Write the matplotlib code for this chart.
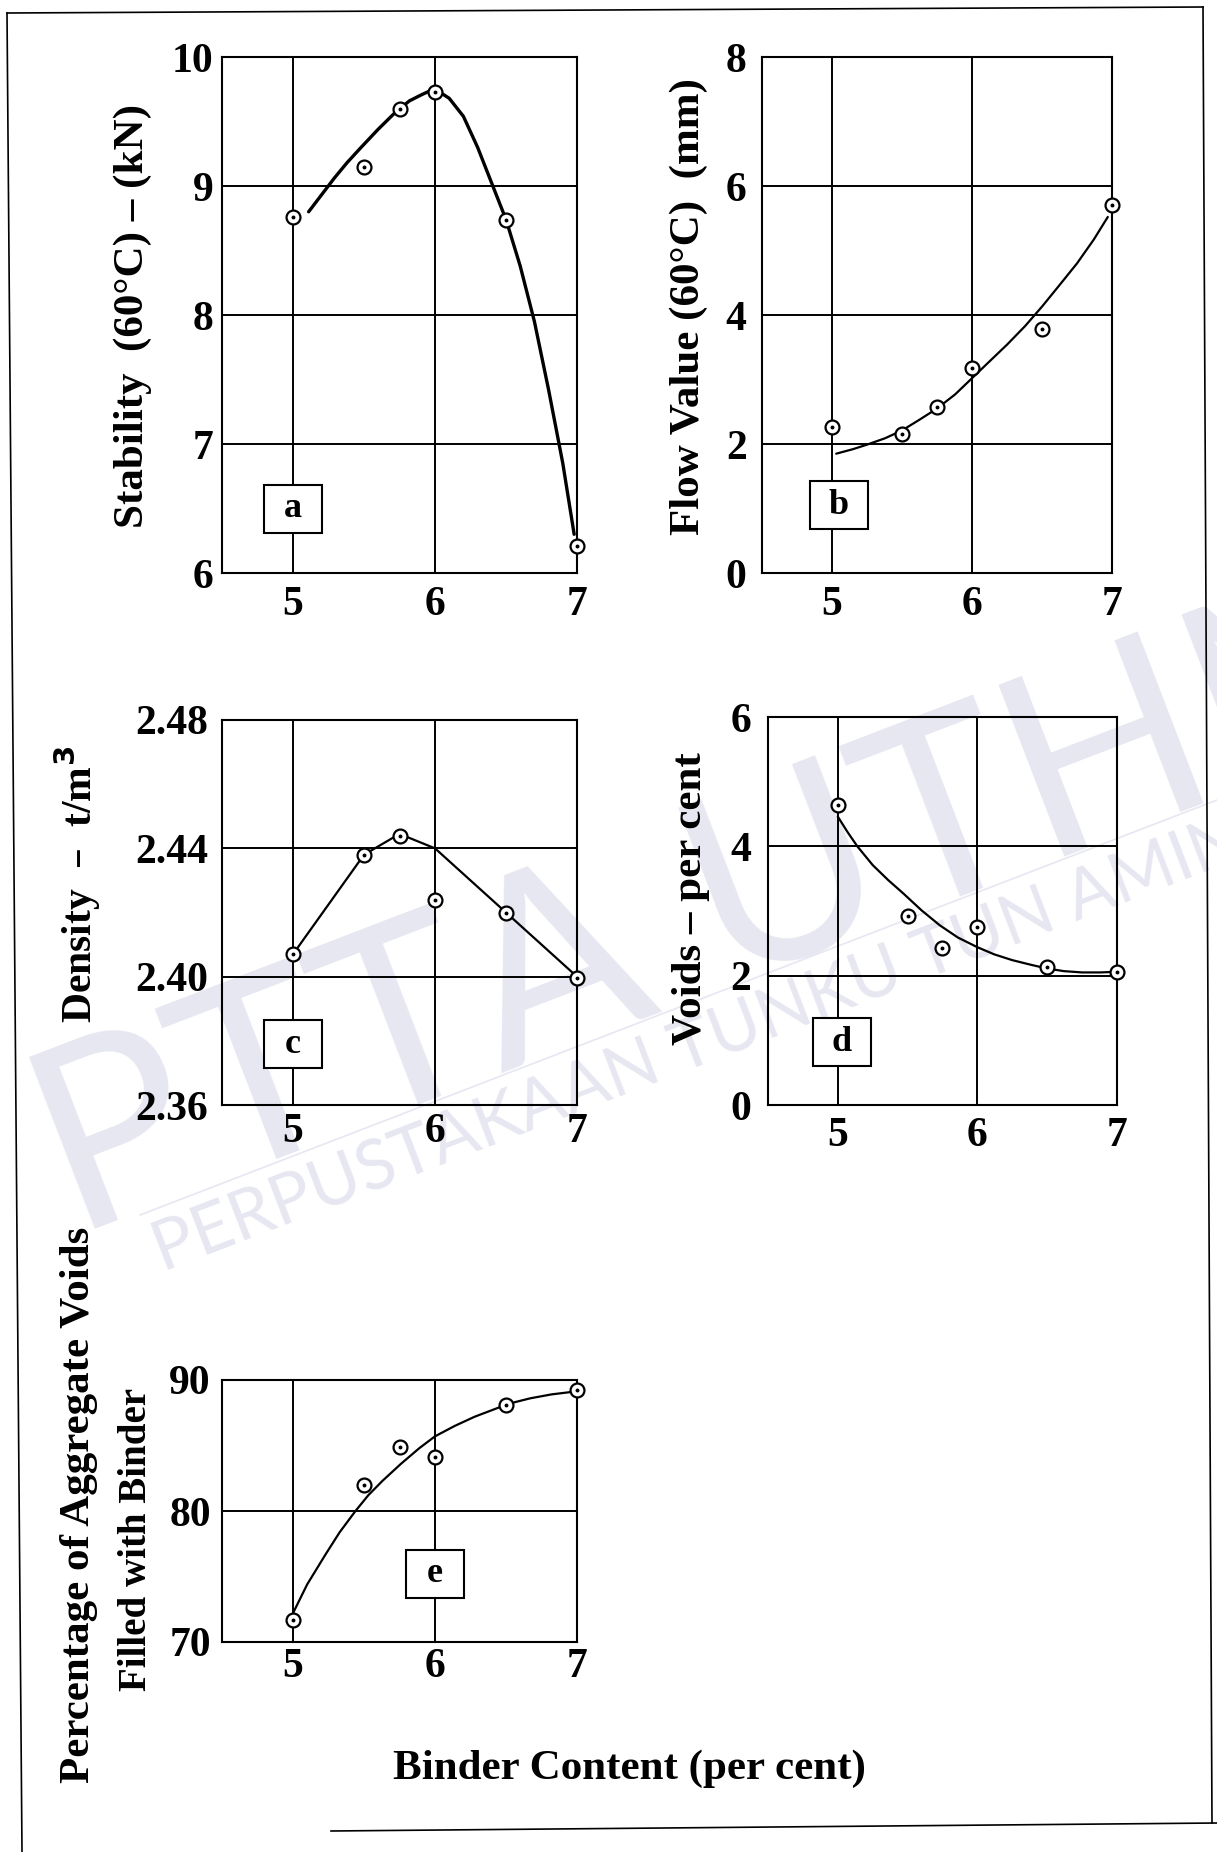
import matplotlib
matplotlib.use('Agg')
import matplotlib.pyplot as plt
from matplotlib.lines import Line2D
from matplotlib.patches import Rectangle

plt.rcParams['font.family'] = ['Liberation Serif', 'DejaVu Serif']

# Binder content of the test specimens (per cent)
binder = [5.0, 5.5, 5.75, 6.0, 6.5, 7.0]

# Measured values
stability = [8.76, 9.15, 9.60, 9.73, 8.74, 6.21]
flow = [2.27, 2.16, 2.58, 3.18, 3.78, 5.70]
density = [2.407, 2.438, 2.4437, 2.4238, 2.420, 2.3996]
voids = [4.64, 2.92, 2.43, 2.75, 2.14, 2.06]
vfb = [71.7, 82.0, 84.9, 84.1, 88.1, 89.2]

# Hand drawn best-fit curves
stab_curve_x = [5.11, 5.2, 5.29, 5.38, 5.48, 5.6, 5.72, 5.82, 5.91, 5.97, 6.03, 6.1, 6.2, 6.3, 6.4,
                6.5, 6.6, 6.7, 6.8, 6.9, 6.98]
stab_curve_y = [8.80, 8.93, 9.06, 9.18, 9.30, 9.44, 9.57, 9.66, 9.71, 9.74, 9.73, 9.68, 9.54, 9.30, 9.02,
                8.74, 8.38, 7.95, 7.42, 6.85, 6.30]
flow_curve_x = [5.03, 5.15, 5.25, 5.38, 5.5, 5.62, 5.75, 5.88, 6.0, 6.12, 6.25, 6.38, 6.5, 6.62, 6.75, 6.87, 6.97]
flow_curve_y = [1.85, 1.92, 1.99, 2.09, 2.21, 2.37, 2.55, 2.77, 3.02, 3.27, 3.54, 3.83, 4.13, 4.45, 4.80, 5.17, 5.52]
dens_curve_x = [5.0, 5.5, 5.75, 6.0, 6.5, 7.0]
dens_curve_y = [2.407, 2.438, 2.4445, 2.440, 2.420, 2.400]
voids_curve_x = [5.0, 5.07, 5.14, 5.25, 5.36, 5.47, 5.6, 5.73, 5.86, 6.0, 6.12, 6.25, 6.38, 6.5, 6.62, 6.75, 6.88, 7.0]
voids_curve_y = [4.46, 4.22, 4.0, 3.71, 3.48, 3.27, 3.01, 2.78, 2.59, 2.44, 2.33, 2.24, 2.17, 2.11, 2.07, 2.05, 2.05, 2.06]
vfb_curve_x = [5.0, 5.1, 5.23, 5.33, 5.44, 5.53, 5.63, 5.76, 5.89, 6.0, 6.14, 6.28, 6.45, 6.56, 6.67, 6.82, 6.97]
vfb_curve_y = [72.2, 74.4, 76.7, 78.4, 80.0, 81.2, 82.3, 83.6, 84.8, 85.7, 86.5, 87.2, 87.9, 88.3, 88.6, 88.9, 89.1]

x_ticks = [5, 6, 7]
stab_ticks = [6, 7, 8, 9, 10]
flow_ticks = [0, 2, 4, 6, 8]
dens_ticks = [2.36, 2.40, 2.44, 2.48]
voids_ticks = [0, 2, 4, 6]
vfb_ticks = [70, 80, 90]

W, H = 1217, 1852
fig = plt.figure(figsize=(W / 100, H / 100), dpi=100)


def px_axes(left, right, top, bottom):
    ax = fig.add_axes([left / W, 1 - bottom / H, (right - left) / W, (bottom - top) / H])
    ax.px_size = (right - left, bottom - top)
    return ax


def panel(ax, xs, ys, cx, cy, yticks, fmt, letter, lpos, lw=1.6, ypad=8, xpad=9):
    ax.set_facecolor('none')
    ax.set_xlim(4.5, 7.0)
    ax.set_ylim(yticks[0], yticks[-1])
    ax.set_xticks(x_ticks)
    ax.set_yticks(yticks)
    ax.set_yticklabels([fmt.format(v) for v in yticks])
    ax.tick_params(length=0, labelsize=30)
    ax.tick_params(axis='y', pad=ypad)
    ax.tick_params(axis='x', pad=xpad)
    for lab in ax.get_xticklabels() + ax.get_yticklabels():
        lab.set_fontweight('bold')
    for s in ax.spines.values():
        s.set_linewidth(1.5)
    ax.grid(True, color='black', linewidth=1.4)
    ax.set_axisbelow(True)
    ax.plot(cx, cy, color='black', linewidth=lw, zorder=3, clip_on=False,
            solid_capstyle='round', solid_joinstyle='round')
    ax.plot(xs, ys, 'o', markersize=10, markerfacecolor='white', markeredgecolor='black',
            markeredgewidth=1.6, zorder=4, clip_on=False)
    ax.plot(xs, ys, 'o', markersize=1.8, color='black', zorder=5, clip_on=False)
    # letter box, 58 x 48 pixels
    bw = 58 * 2.5 / ax.px_size[0]
    bh = 48 * (yticks[-1] - yticks[0]) / ax.px_size[1]
    ax.add_patch(Rectangle((lpos[0] - bw / 2, lpos[1] - bh / 2), bw, bh, facecolor='white',
                           edgecolor='black', linewidth=1.5, zorder=6))
    ax.text(lpos[0], lpos[1], letter, fontsize=26, fontweight='bold', ha='center', va='center',
            zorder=7)


ax_a = px_axes(222, 577, 57, 573)
panel(ax_a, binder, stability, stab_curve_x, stab_curve_y, stab_ticks, '{:.0f}', 'a', (5.0, 6.5),
      lw=2.4, ypad=6)
ax_b = px_axes(762, 1112, 57, 573)
panel(ax_b, binder, flow, flow_curve_x, flow_curve_y, flow_ticks, '{:.0f}', 'b', (5.05, 1.05), ypad=11)
ax_c = px_axes(222, 577, 720, 1105)
panel(ax_c, binder, density, dens_curve_x, dens_curve_y, dens_ticks, '{:.2f}', 'c', (5.0, 2.379),
      ypad=10, xpad=6)
ax_d = px_axes(768, 1117, 717, 1105)
panel(ax_d, binder, voids, voids_curve_x, voids_curve_y, voids_ticks, '{:.0f}', 'd', (5.03, 0.97), ypad=12)
ax_e = px_axes(222, 577, 1380, 1642)
panel(ax_e, binder, vfb, vfb_curve_x, vfb_curve_y, vfb_ticks, '{:.0f}', 'e', (6.0, 75.2), ypad=8, xpad=4)


def ylab(x, y, s, size=30):
    fig.text(x / W, 1 - y / H, s, rotation=90, ha='center', va='center', fontsize=size,
             fontweight='bold')


ylab(133, 316, 'Stability  (60°C) \u2013 (kN)', 31)
ylab(689, 307, 'Flow Value (60°C)  (mm)', 31)
ylab(77, 884, 'Density  \u2013  t/m$^\\mathbf{3}$', 30)
ylab(691, 899, 'Voids \u2013 per cent', 31)
ylab(79, 1505, 'Percentage of Aggregate Voids', 31)
ylab(136, 1539, 'Filled with Binder', 28)

fig.text(629 / W, 1 - 1769 / H, 'Binder Content (per cent)', ha='center', va='center',
         fontsize=31, fontweight='bold')

# watermark of the scanned source
wm = '#e7e7f2'
fig.text(735 / W, 1 - 905 / H, 'PTTA UTHM', rotation=21, ha='center', va='center',
         fontsize=185, color=wm, family='Lato', zorder=-5)
fig.text(745 / W, 1 - 1028 / H, 'PERPUSTAKAAN TUNKU TUN AMINAH', rotation=21, ha='center', va='center',
         fontsize=50, color=wm, family='Lato', zorder=-5)
fig.add_artist(Line2D([140 / W, 1217 / W], [1 - 1215 / H, 1 - 800 / H], color=wm, linewidth=1.2,
                      transform=fig.transFigure, zorder=-5))

# outer frame of the page
frame = dict(color='black', linewidth=1.2, transform=fig.transFigure)
fig.add_artist(Line2D([7 / W, 22 / W], [1 - 13 / H, 0], **frame))
fig.add_artist(Line2D([7 / W, 1203 / W], [1 - 13 / H, 1 - 7 / H], **frame))
fig.add_artist(Line2D([1203 / W, 1212 / W], [1 - 7 / H, 1 - 1823 / H], **frame))
fig.add_artist(Line2D([331 / W, 1217 / W], [1 - 1831 / H, 1 - 1823 / H], **frame))

fig.savefig('out.png', dpi=100)
